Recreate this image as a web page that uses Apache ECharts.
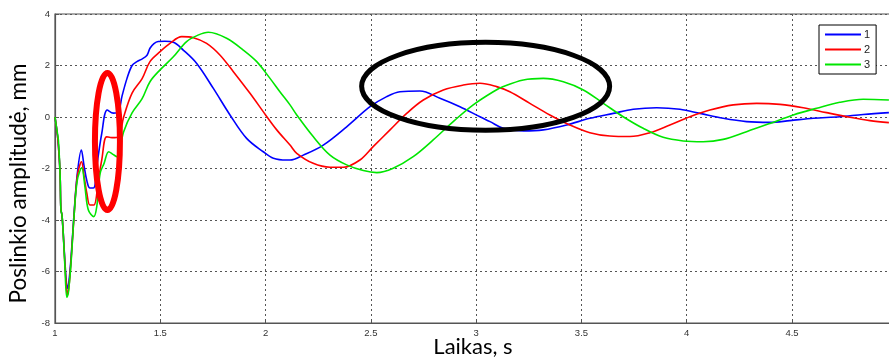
<!DOCTYPE html>
<html>
<head>
<meta charset="utf-8">
<script src="https://cdn.jsdelivr.net/npm/echarts@6/dist/echarts.min.js"></script>
<style>html,body{margin:0;padding:0;background:#fff;}#c{width:889px;height:361px;}</style>
</head>
<body>
<div id="c"></div>
<script>
// ---- data (time in s, displacement in mm) ----
const seriesNames = ['1', '2', '3'];
const blueT = [1.000,1.014,1.024,1.028,1.033,1.039,1.047,1.055,1.060,1.066,1.076,1.090,1.106,1.125,1.138,1.152,1.166,1.185,1.198,1.222,1.248,1.277,1.301,1.318,1.342,1.366,1.389,1.413,1.437,1.451,1.470,1.490,1.522,1.562,1.609,1.673,1.752,1.831,1.910,1.989,2.037,2.100,2.116,2.179,2.274,2.385,2.496,2.575,2.638,2.733,2.828,2.923,3.018,3.066,3.129,3.224,3.319,3.430,3.540,3.651,3.746,3.857,3.968,4.063,4.173,4.284,4.395,4.490,4.601,4.727,4.838,4.960];
const blueY = [0,-0.9,-2.2,-3.6,-3.8,-4.5,-5.6,-6.5,-6.65,-6.4,-5.5,-3.8,-2.2,-1.28,-1.9,-2.5,-2.76,-2.75,-1.94,-0.64,0.27,0.15,0.2,0.8,1.5,2.0,2.15,2.25,2.4,2.67,2.85,2.93,2.94,2.9,2.6,2.08,1.11,0.08,-0.83,-1.35,-1.6,-1.67,-1.67,-1.48,-1.09,-0.38,0.4,0.79,0.98,1.01,0.73,0.4,0.01,-0.18,-0.44,-0.54,-0.5,-0.31,-0.05,0.14,0.3,0.36,0.3,0.14,-0.05,-0.18,-0.21,-0.14,-0.05,0.01,0.1,0.17];
const redT = [1.000,1.014,1.024,1.028,1.033,1.039,1.047,1.055,1.059,1.066,1.076,1.090,1.106,1.126,1.138,1.152,1.166,1.185,1.206,1.222,1.245,1.271,1.302,1.326,1.366,1.413,1.451,1.499,1.546,1.602,1.657,1.720,1.783,1.847,1.926,2.000,2.053,2.116,2.148,2.226,2.306,2.369,2.448,2.511,2.591,2.670,2.749,2.844,2.939,3.018,3.097,3.160,3.255,3.350,3.445,3.540,3.635,3.730,3.825,3.920,4.015,4.110,4.221,4.332,4.443,4.553,4.664,4.775,4.870,4.960];
const redY = [0,-0.9,-2.2,-3.6,-3.8,-4.5,-5.7,-6.7,-6.9,-6.6,-5.6,-3.9,-2.3,-1.74,-2.3,-3.0,-3.42,-3.42,-2.45,-1.67,-0.77,-0.8,-0.77,0.0,0.93,1.48,2.15,2.54,2.86,3.12,3.08,2.86,2.41,1.76,0.92,0.08,-0.5,-1.09,-1.41,-1.8,-1.95,-1.95,-1.67,-1.15,-0.5,0.14,0.66,1.05,1.24,1.31,1.18,0.98,0.53,0.08,-0.31,-0.61,-0.74,-0.76,-0.61,-0.31,0.01,0.27,0.47,0.53,0.49,0.36,0.17,-0.01,-0.14,-0.22];
const greenT = [1.000,1.009,1.016,1.024,1.028,1.033,1.039,1.047,1.056,1.063,1.075,1.090,1.106,1.127,1.142,1.158,1.184,1.198,1.214,1.233,1.255,1.275,1.294,1.326,1.366,1.413,1.451,1.499,1.562,1.625,1.679,1.728,1.815,1.894,1.958,2.021,2.068,2.116,2.148,2.226,2.306,2.385,2.464,2.528,2.606,2.701,2.796,2.891,2.986,3.081,3.129,3.224,3.319,3.414,3.509,3.604,3.698,3.793,3.888,3.983,4.078,4.173,4.284,4.395,4.506,4.617,4.727,4.838,4.960];
const greenY = [0,-0.5,-0.9,-2.2,-3.6,-3.8,-4.5,-5.8,-7.0,-6.85,-5.8,-3.9,-2.45,-1.97,-2.7,-3.6,-3.87,-3.5,-2.2,-1.8,-1.35,-1.45,-1.54,-0.57,0.16,0.7,1.37,1.83,2.34,2.93,3.18,3.29,3.06,2.6,2.15,1.5,0.98,0.47,0.08,-0.76,-1.48,-1.86,-2.08,-2.16,-1.99,-1.54,-0.89,-0.18,0.47,0.98,1.18,1.44,1.5,1.37,1.05,0.53,0.01,-0.44,-0.79,-0.93,-0.96,-0.87,-0.57,-0.25,0.08,0.34,0.57,0.69,0.66];
// annotation ellipses, centered in data coordinates
const redMark = [1.249, -0.95];
const blackMark = [3.045, 1.19];

const zip = (t, y) => t.map((v, i) => [v, y[i]]);
const colors = ['#0000ff', '#ff0000', '#00e600'];
const gridLine = { show: true, lineStyle: { color: '#555', type: [2, 3], width: 1 } };

const chart = echarts.init(document.getElementById('c'), null, { renderer: 'canvas' });
chart.setOption({
  animation: false,
  backgroundColor: '#fff',
  grid: { left: 55, right: -2, top: 14, bottom: 38, outerBoundsMode: 'none', containLabel: false,
          show: true, borderColor: '#555', borderWidth: 1.2, backgroundColor: 'transparent' },
  xAxis: {
    type: 'value', min: 1, max: 4.97, interval: 0.5,
    name: 'Laikas, s', nameLocation: 'middle', nameGap: 13, nameMoveOverlap: false,
    nameTextStyle: { fontFamily: 'Lato', fontSize: 22, color: '#000' },
    axisLine: { show: true, onZero: false, lineStyle: { color: '#555', width: 1.2 } },
    axisTick: { show: true, inside: true, length: 4, lineStyle: { color: '#555' } },
    axisLabel: { fontFamily: 'Liberation Sans', fontSize: 9.5, color: '#333', margin: 5,
      formatter: v => (Math.abs(v * 2 - Math.round(v * 2)) < 1e-6 ? String(v) : '') },
    splitLine: gridLine
  },
  yAxis: {
    type: 'value', min: -8, max: 4, interval: 2,
    name: 'Poslinkio amplitudė, mm', nameLocation: 'middle', nameGap: 25, nameRotate: 90, nameMoveOverlap: false,
    nameTextStyle: { fontFamily: 'Lato', fontSize: 22.5, color: '#000', padding: [0, 30, 0, 0] },
    axisLine: { show: true, onZero: false, lineStyle: { color: '#555', width: 1.2 } },
    axisTick: { show: true, inside: true, length: 4, lineStyle: { color: '#555' } },
    axisLabel: { fontFamily: 'Liberation Sans', fontSize: 9.5, color: '#333', margin: 5 },
    splitLine: gridLine
  },
  legend: {
    data: seriesNames, orient: 'vertical', left: 819, top: 25,
    icon: 'rect', itemWidth: 36, itemHeight: 2, itemGap: 2, padding: [3, 6, 3, 6],
    backgroundColor: '#fff', borderColor: '#000', borderWidth: 1, borderRadius: 0,
    textStyle: { fontFamily: 'Liberation Sans', fontSize: 11, color: '#222', lineHeight: 13, padding: [0, 0, 0, -2] }
  },
  series: [
    { name: seriesNames[0], type: 'line', data: zip(blueT, blueY) },
    { name: seriesNames[1], type: 'line', data: zip(redT, redY) },
    { name: seriesNames[2], type: 'line', data: zip(greenT, greenY) }
  ].map((s, i) => Object.assign(s, {
    symbol: 'none', smooth: 0.35, color: colors[i],
    lineStyle: { color: colors[i], width: 1.6 }, z: 3 + i
  }))
});

const pR = chart.convertToPixel({ gridIndex: 0 }, redMark);
const pB = chart.convertToPixel({ gridIndex: 0 }, blackMark);
chart.setOption({
  graphic: [
    { type: 'ellipse', shape: { cx: pR[0], cy: pR[1], rx: 12.5, ry: 68.5 }, style: { fill: 'none', stroke: '#ff0000', lineWidth: 6 }, z: 100 },
    { type: 'ellipse', shape: { cx: pB[0], cy: pB[1], rx: 124, ry: 44 }, style: { fill: 'none', stroke: '#000', lineWidth: 5 }, z: 100 }
  ]
});
</script>
</body>
</html>
